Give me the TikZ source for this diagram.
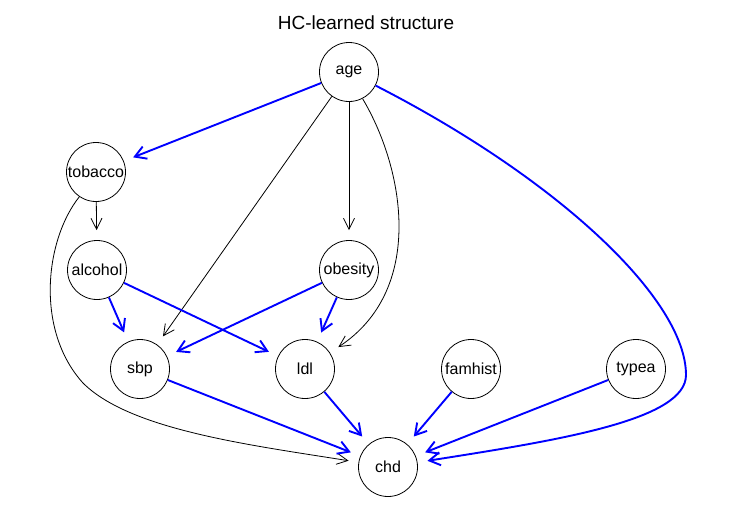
\documentclass[tikz,border=0pt]{standalone}
\usepackage{fontspec}
\setmainfont{Liberation Sans}
\usetikzlibrary{arrows.meta}
\begin{document}
\begin{tikzpicture}[x=1pt,y=-1pt,
  var/.style={circle,draw,line width=0.8pt,minimum size=59pt,inner sep=0pt,font=\fontsize{16}{18}\selectfont},
  hc/.style={draw=blue,line width=1.9pt,shorten >=10pt,-{Straight Barb[length=11pt,width=13pt]}},
  plain/.style={draw=black,line width=0.8pt,shorten >=10pt,-{Straight Barb[length=11pt,width=11pt]}}]
\useasboundingbox (0,0) rectangle (734,507);
\node[anchor=base,font=\fontsize{19}{22}\selectfont] (title) at (366,29) {HC-learned structure};
\node[var] (age) at (349,72) {age};
\node[var] (tobacco) at (96,172) {tobacco};
\node[var] (alcohol) at (97,270) {alcohol};
\node[var] (obesity) at (349,270) {obesity};
\node[var] (sbp) at (140,369) {sbp};
\node[var] (ldl) at (305,369) {ldl};
\node[var] (famhist) at (471,369) {famhist};
\node[var] (typea) at (636,369) {typea};
\node[var] (chd) at (388,467) {chd};
% black arcs
\draw[plain] (age) -- (sbp);
\draw[plain] (age) -- (obesity);
\draw[plain] (tobacco) -- (alcohol);
\draw[plain] (age.-63) .. controls (405,170) and (425,290) .. (ldl);
\draw[plain] (tobacco.-124) .. controls (45,240) and (35,330) .. (83,383) .. controls (130,430) and (250,445) .. (chd);
% blue arcs
\draw[hc] (age) -- (tobacco);
\draw[hc] (alcohol) -- (sbp);
\draw[hc] (alcohol) -- (ldl);
\draw[hc] (obesity) -- (sbp);
\draw[hc] (obesity) -- (ldl);
\draw[hc] (sbp) -- (chd);
\draw[hc] (ldl) -- (chd);
\draw[hc] (famhist) -- (chd);
\draw[hc] (typea) -- (chd);
\draw[hc] (age.-27) .. controls (560,180) and (686,300) .. (686,375) .. controls (686,420) and (560,440) .. (chd);
\end{tikzpicture}
\end{document}
